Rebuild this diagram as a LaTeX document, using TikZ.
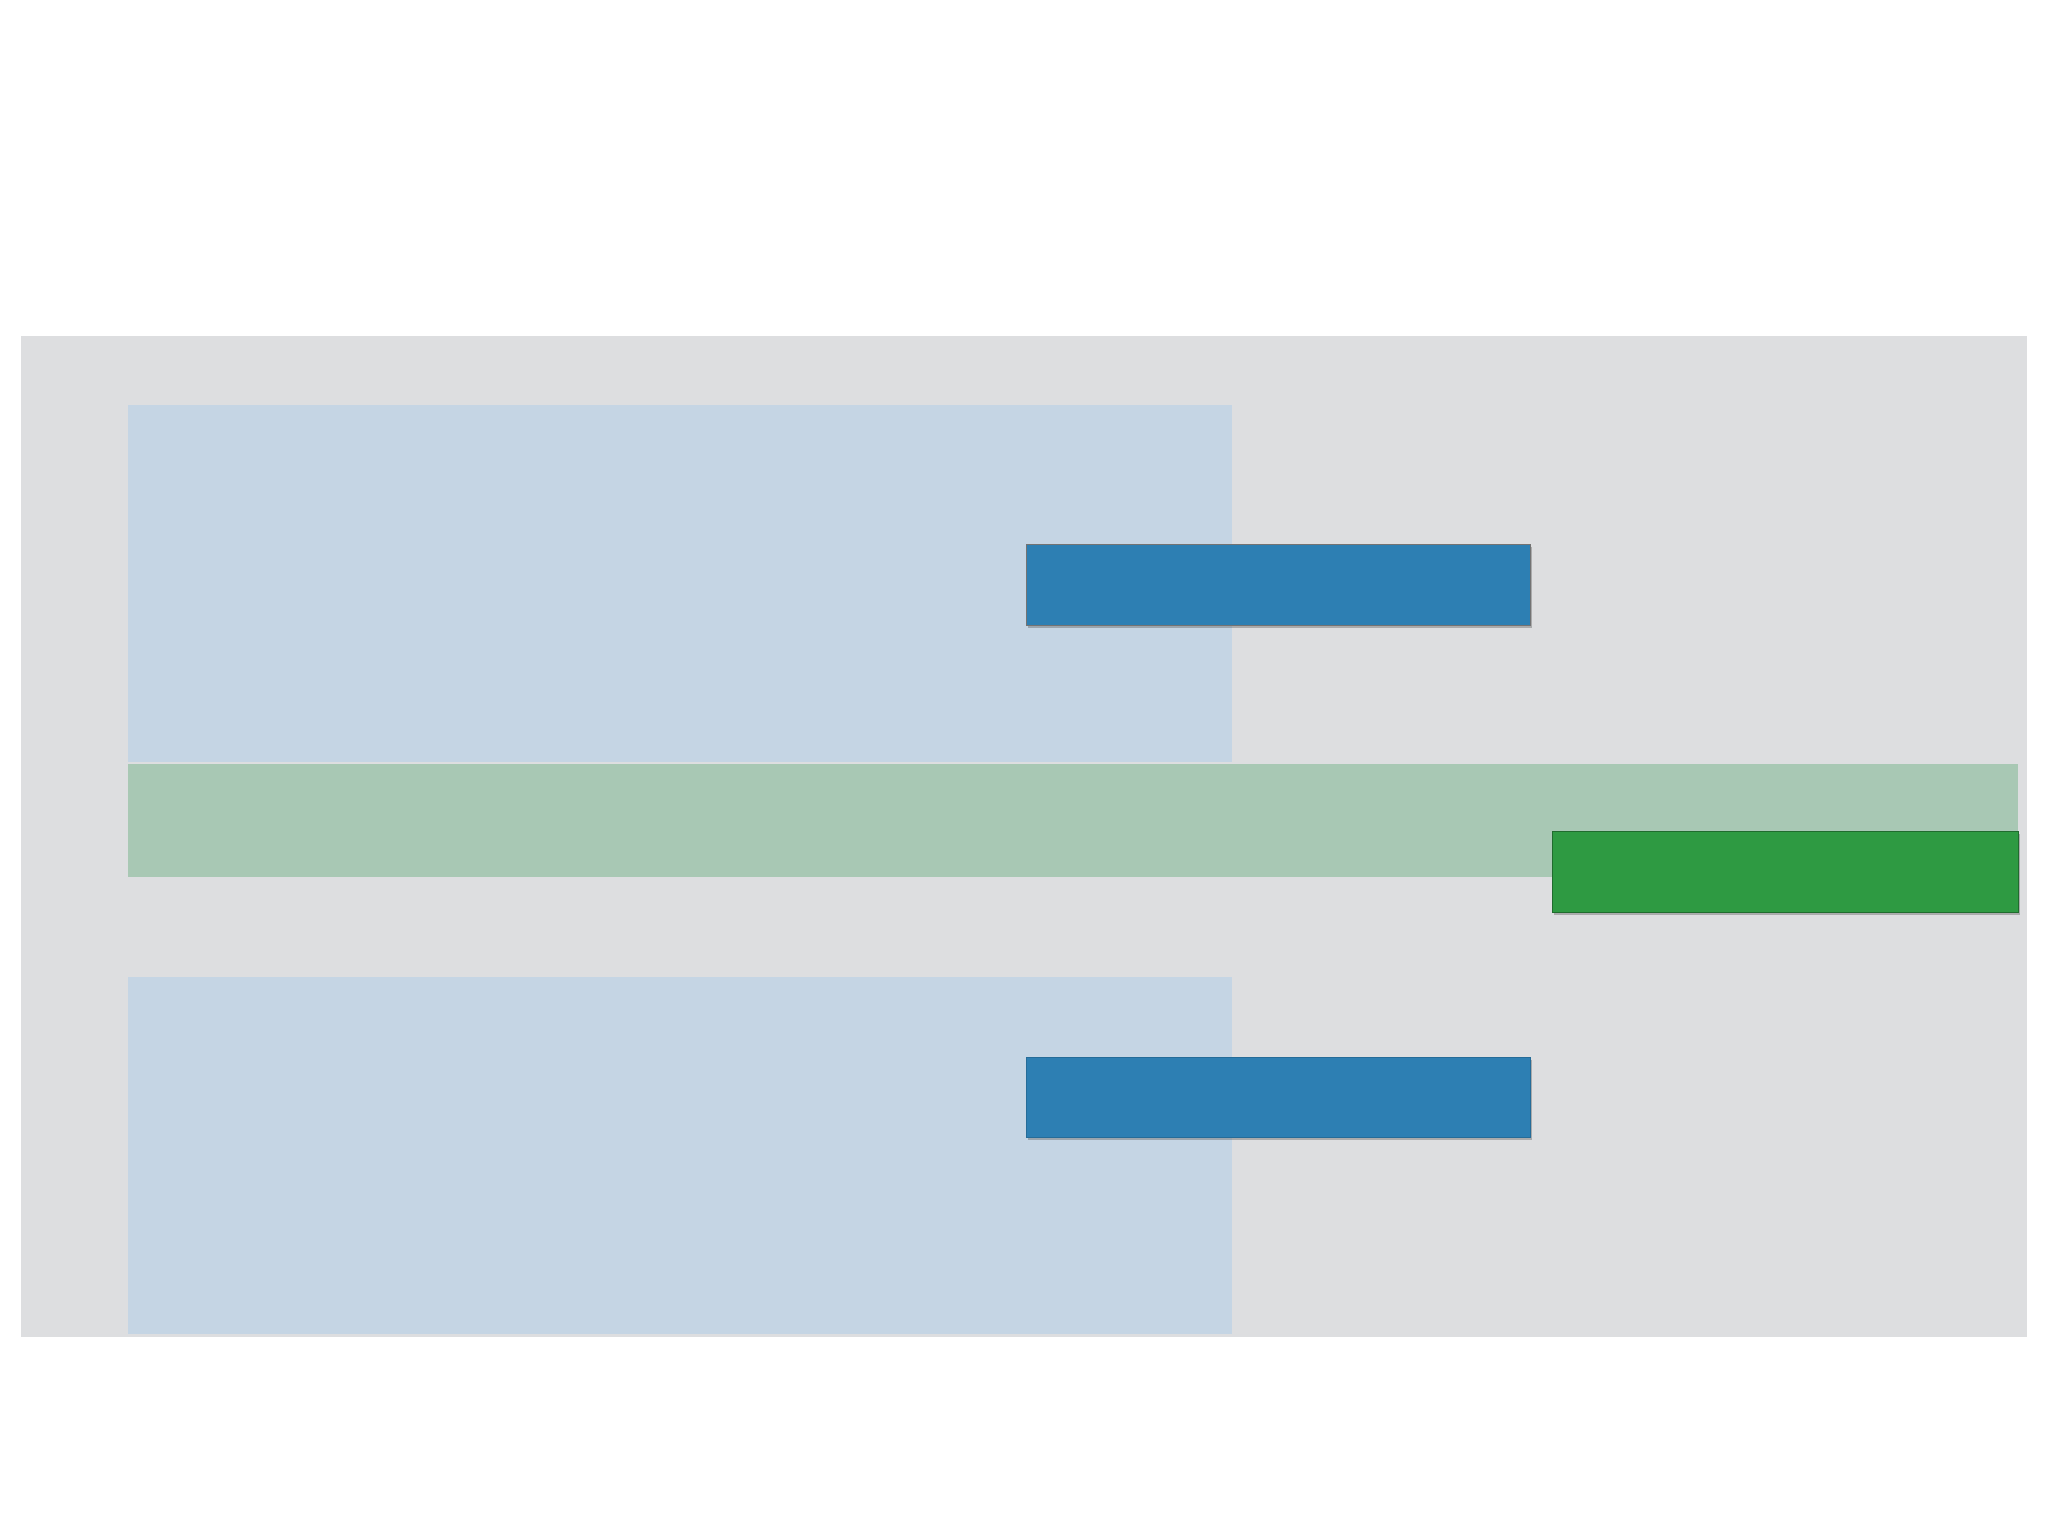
\documentclass[tikz,border=0pt]{standalone}
\usetikzlibrary{shadows}
\definecolor{panelgray}{HTML}{DDDEE0}
\definecolor{lightblue}{HTML}{C5D5E4}
\definecolor{barblue}{HTML}{2D7FB3}
\definecolor{lightgreen}{HTML}{A8C8B4}
\definecolor{bargreen}{HTML}{2E9A42}
\tikzset{
  region/.style={draw=none},
  bar/.style={draw=black!55, line width=1pt,
    drop shadow={shadow xshift=2pt, shadow yshift=-3pt, opacity=0.35, fill=black!70}},
}
\begin{document}
\begin{tikzpicture}[x=1pt,y=-1pt]
\useasboundingbox (0,0) rectangle (2048,1536);
\fill[white] (0,0) rectangle (2048,1536);
\fill[panelgray] (21,336) rectangle (2027,1337);
\fill[lightblue, region] (128,405) rectangle (1232,762);
\fill[lightgreen, region] (128,764) rectangle (2018,877);
\fill[lightblue, region] (128,977) rectangle (1232,1334);
\filldraw[bar, fill=barblue] (1026,544) rectangle (1530,625);
\filldraw[bar, fill=bargreen, draw=bargreen!70!black] (1552,831) rectangle (2018,912);
\filldraw[bar, fill=barblue, draw=barblue!85!black] (1026,1057) rectangle (1530,1137);
\end{tikzpicture}
\end{document}
